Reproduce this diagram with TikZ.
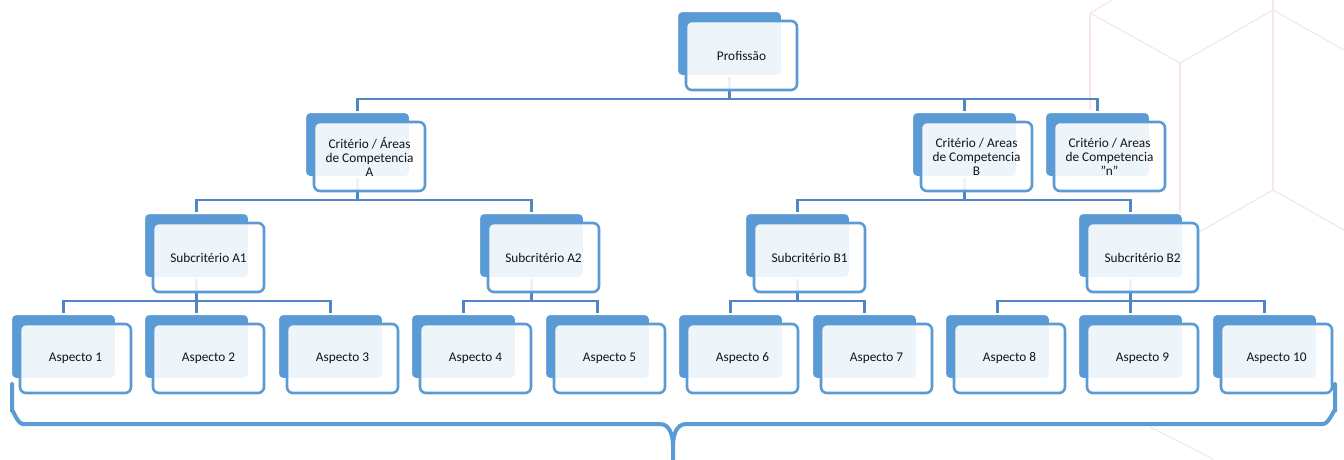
\documentclass[tikz,border=0pt]{standalone}
\usepackage{fontspec}
\setmainfont{Carlito}
\pgfdeclarelayer{deco}
\pgfdeclarelayer{back}
\pgfdeclarelayer{mid}
\pgfsetlayers{deco,back,mid,main}
\definecolor{accent}{HTML}{5B9BD5}
\definecolor{connblue}{HTML}{5086C4}
\definecolor{hexpink}{HTML}{F7E7E9}
\definecolor{txt}{HTML}{141414}
\tikzset{
  backbox/.style={rectangle, rounded corners=5pt, fill=accent, draw=white, line width=2pt,
    minimum width=105pt, minimum height=65pt, inner sep=0pt},
  frontbox/.style={rectangle, rounded corners=6pt, draw=accent, line width=2.6pt,
    fill=white, fill opacity=0.9, text opacity=1, text=txt,
    minimum width=111pt, minimum height=69pt, inner sep=0pt, align=center,
    font=\fontsize{13.3pt}{14pt}\selectfont},
  conn/.style={draw=connblue, line width=2.5pt},
  bracestyle/.style={draw=accent, line width=4pt, line cap=round},
  hexline/.style={draw=hexpink, line width=1.3pt}
}
\newcommand{\orgnode}[4]{%
  \begin{pgfonlayer}{back}\node[backbox] (#1b) at ({#2+52.5},{#3+32.5}) {};\end{pgfonlayer}
  \node[frontbox] (#1f) at ({#2+64.5},{#3+44.5}) {#4};}
\begin{document}
\begin{tikzpicture}[x=1pt,y=-1pt]
\useasboundingbox (0,0) rectangle (1344,459);
% background decoration
\begin{pgfonlayer}{deco}
  \draw[hexline] (1090,13) -- (1180,63) -- (1273,10) -- (1344,50);
  \draw[hexline] (1090,13) -- (1112,0);
  \draw[hexline] (1273,0) -- (1273,190);
  \draw[hexline] (1180,63) -- (1180,243);
  \draw[hexline] (1090,13) -- (1090,110);
  \draw[hexline] (1180,243) -- (1273,190) -- (1344,230);
  \draw[hexline] (1150,427) -- (1213,459);
\end{pgfonlayer}
% nodes
\orgnode{prof}{677}{11}{Profissão}
\orgnode{critA}{305}{112}{Critério / Áreas\\de Competencia\\A}
\orgnode{critB}{912}{112}{Critério / Areas\\de Competencia\\B}
\orgnode{critN}{1045}{112}{Critério / Areas\\de Competencia\\"n"}
\orgnode{subA1}{144}{213}{Subcritério A1}
\orgnode{subA2}{479}{213}{Subcritério A2}
\orgnode{subB1}{745}{213}{Subcritério B1}
\orgnode{subB2}{1078}{213}{Subcritério B2}
\orgnode{asp1}{11}{314}{Aspecto 1}
\orgnode{asp2}{144}{314}{Aspecto 2}
\orgnode{asp3}{278}{314}{Aspecto 3}
\orgnode{asp4}{411}{314}{Aspecto 4}
\orgnode{asp5}{545}{314}{Aspecto 5}
\orgnode{asp6}{678}{314}{Aspecto 6}
\orgnode{asp7}{812}{314}{Aspecto 7}
\orgnode{asp8}{945}{314}{Aspecto 8}
\orgnode{asp9}{1078}{314}{Aspecto 9}
\orgnode{asp10}{1212}{314}{Aspecto 10}
% connectors
\coordinate (bus1) at (0,99);
\coordinate (bus2) at (0,200);
\coordinate (bus3) at (0,301);
\begin{pgfonlayer}{mid}
  \foreach \c in {critA,critB,critN}
    \draw[conn] (profb.south) -- (profb.south |- bus1) -| (\c b.north);
  \foreach \c in {subA1,subA2}
    \draw[conn] (critAb.south) -- (critAb.south |- bus2) -| (\c b.north);
  \foreach \c in {subB1,subB2}
    \draw[conn] (critBb.south) -- (critBb.south |- bus2) -| (\c b.north);
  \foreach \c in {asp1,asp2,asp3}
    \draw[conn] (subA1b.south) -- (subA1b.south |- bus3) -| (\c b.north);
  \foreach \c in {asp4,asp5}
    \draw[conn] (subA2b.south) -- (subA2b.south |- bus3) -| (\c b.north);
  \foreach \c in {asp6,asp7}
    \draw[conn] (subB1b.south) -- (subB1b.south |- bus3) -| (\c b.north);
  \foreach \c in {asp8,asp9,asp10}
    \draw[conn] (subB2b.south) -- (subB2b.south |- bus3) -| (\c b.north);
\end{pgfonlayer}
% brace
\draw[bracestyle] (12,384) -- (12,412) to[out=90,in=180] (23,424) -- (660,424)
  to[out=0,in=90] (673,446) -- (673,462);
\draw[bracestyle] (673,446) to[out=90,in=180] (686,424) -- (1323,424)
  to[out=0,in=90] (1335,412) -- (1335,384);
\end{tikzpicture}
\end{document}
